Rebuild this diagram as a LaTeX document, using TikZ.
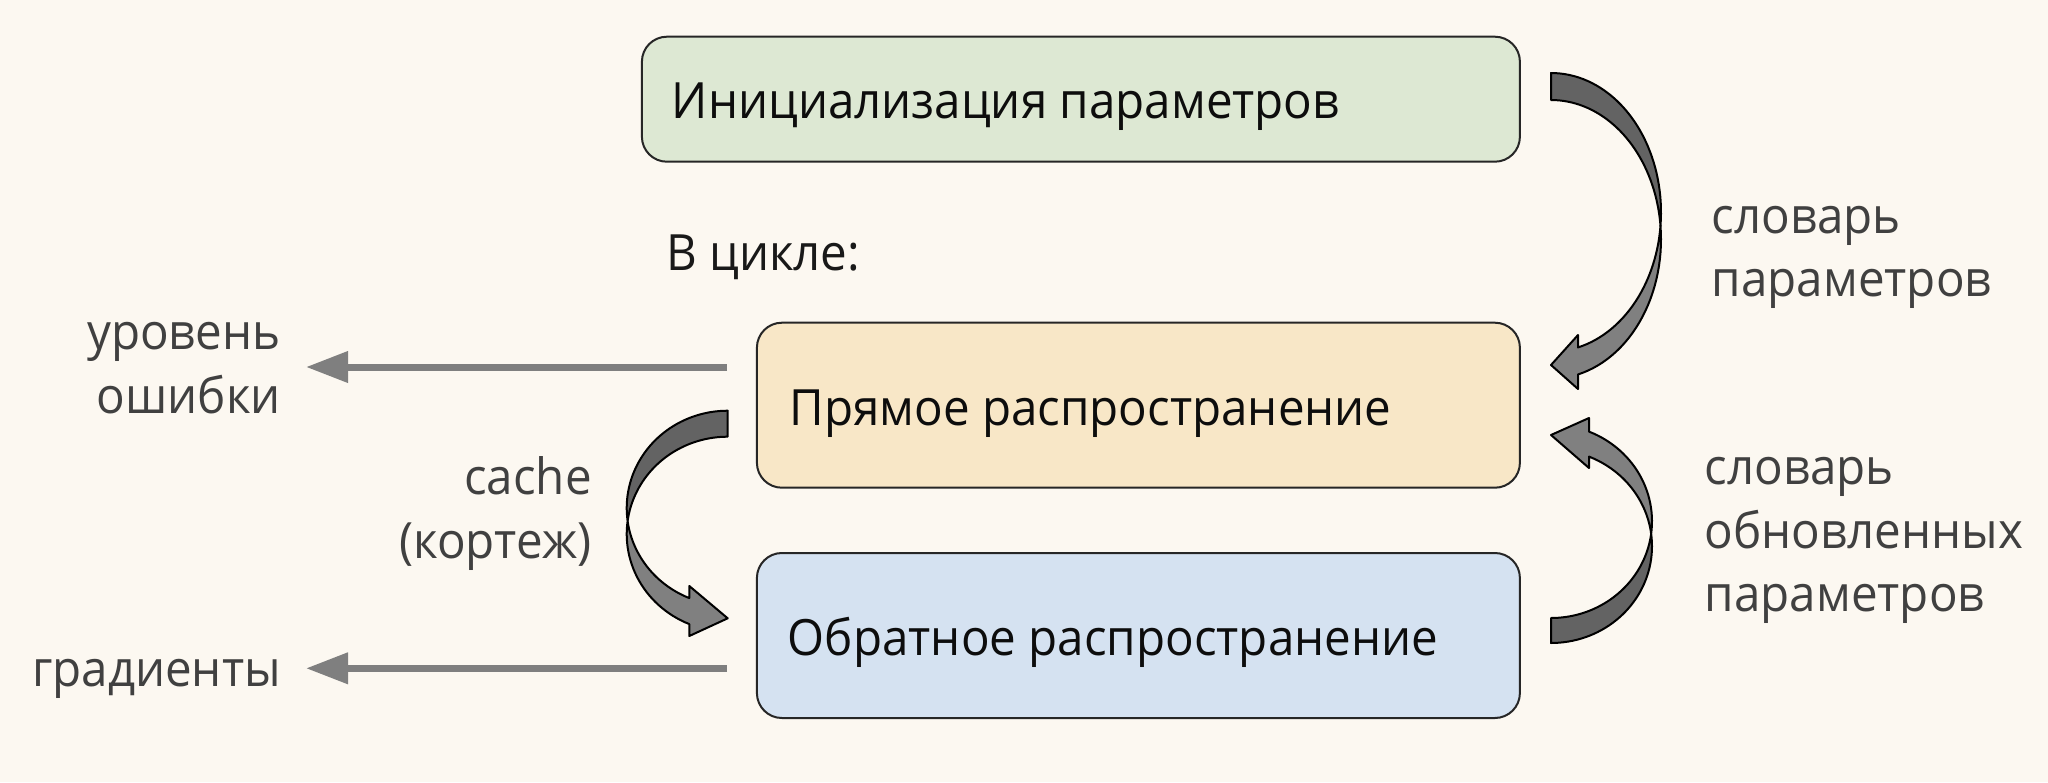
\documentclass[tikz,border=0pt]{standalone}
\usepackage{fontspec}
\setmainfont{Open Sans}[FakeStretch=0.95]
\usetikzlibrary{arrows.meta}
\definecolor{bg}{HTML}{FCF8F1}
\definecolor{cgreen}{HTML}{DDE8D3}
\definecolor{cyellow}{HTML}{F8E7C7}
\definecolor{cblue}{HTML}{D5E2F1}
\definecolor{cdark}{HTML}{636363}
\definecolor{clight}{HTML}{808080}
\definecolor{clabel}{HTML}{404040}
\definecolor{cline}{HTML}{7F7F7F}
\tikzset{
  box/.style={draw=black!85, line width=2pt, rounded corners=25pt, inner sep=0pt, outer sep=0pt},
  boxtext/.style={anchor=base west, inner sep=0pt, font=\fontsize{50pt}{63.5pt}\selectfont, text=black!95},
  lbl/.style={inner sep=0pt, font=\fontsize{50pt}{63.5pt}\selectfont, text=clabel},
  blockdark/.style={fill=cdark, draw=black, line width=2pt, line join=round},
  blocklight/.style={fill=clight, draw=black, line width=2pt, line join=round},
  grayarrow/.style={draw=cline, line width=7pt, -{Triangle[length=42pt,width=30pt]}}
}
\begin{document}
\begin{tikzpicture}[x=1pt,y=-1pt]
\fill[bg] (0,0) rectangle (2048,782);
\useasboundingbox (0,0) rectangle (2048,782);

% boxes
\node[box, fill=cgreen, minimum width=878pt, minimum height=125pt] (init) at (1080.9,99.2) {};
\node[box, fill=cyellow, minimum width=763pt, minimum height=165pt] (fwd) at (1138.4,405.2) {};
\node[box, fill=cblue, minimum width=763pt, minimum height=165pt] (bwd) at (1138.4,635.5) {};

\node[boxtext] (t1) at (671.7,118.3) {Инициализация параметров};
\node[boxtext] (t2) at (789.3,425) {Прямое распространение};
\node[boxtext] (t3) at (787.7,655) {Обратное распространение};
\node[lbl, anchor=base west, text=black!90] (loop) at (666,270) {В цикле:};

% side labels (base anchor = last line baseline)
\node[lbl, anchor=base east, align=right] (err) at (281,413) {уровень\\ошибки};
\node[lbl, anchor=base east, align=right] (cache) at (592,558) {cache\\(кортеж)};
\node[lbl, anchor=base east] (grad) at (281,686.7) {градиенты};
\node[lbl, anchor=base west, align=left] (pd) at (1711.5,296.7) {словарь\\параметров};
\node[lbl, anchor=base west, align=left] (upd) at (1704.5,611.7) {словарь\\обновленных\\параметров};

% straight gray arrows
\coordinate (e0) at (727,367);
\coordinate (e1) at (306,367);
\coordinate (g0) at (727,668.3);
\coordinate (g1) at (306,668.3);
\draw[grayarrow] (e0) -- (e1);
\draw[grayarrow] (g0) -- (g1);

% curved block arrow 1: init -> fwd (right side, downward)
\filldraw[blockdark]
  plot[domain=0:95.66, samples=40] ({1551+110*sin(\x)},{212.35-139.35*cos(\x)})
  -- plot[domain=0:84.34, samples=40] ({1551+110*sin(84.34-\x)},{239.35-139.35*cos(84.34-\x)})
  -- cycle;
\filldraw[blocklight]
  plot[domain=95.66:165.79, samples=30] ({1551+110*sin(\x)},{212.35-139.35*cos(\x)})
  -- (1578,335) -- (1551,365) -- (1578,389)
  -- plot[domain=0:81.45, samples=30] ({1551+110*sin(165.79-\x)},{239.35-139.35*cos(165.79-\x)})
  -- cycle;

% curved block arrow 2: bwd -> fwd (right side, upward)
\filldraw[blockdark]
  plot[domain=0:97.42, samples=40] ({1551+101*sin(\x)},{546.25+96.75*cos(\x)})
  -- plot[domain=0:82.58, samples=40] ({1551+101*sin(82.58-\x)},{521.25+96.75*cos(82.58-\x)})
  -- cycle;
\filldraw[blocklight]
  plot[domain=97.42:157.9, samples=30] ({1551+101*sin(\x)},{546.25+96.75*cos(\x)})
  -- (1589,468) -- (1551,435) -- (1589,418)
  -- plot[domain=0:75.32, samples=30] ({1551+101*sin(157.9-\x)},{521.25+96.75*cos(157.9-\x)})
  -- cycle;

% curved block arrow 3: fwd -> bwd (left side, downward)
\filldraw[blockdark]
  plot[domain=0:97.67, samples=40] ({727.7-101*sin(\x)},{508.05-97.35*cos(\x)})
  -- plot[domain=0:82.33, samples=40] ({727.7-101*sin(82.33-\x)},{534.05-97.35*cos(82.33-\x)})
  -- cycle;
\filldraw[blocklight]
  plot[domain=97.67:157.65, samples=30] ({727.7-101*sin(\x)},{508.05-97.35*cos(\x)})
  -- (689.3,586) -- (727.7,618.3) -- (689.3,636)
  -- plot[domain=0:75.32, samples=30] ({727.7-101*sin(157.65-\x)},{534.05-97.35*cos(157.65-\x)})
  -- cycle;
\end{tikzpicture}
\end{document}
